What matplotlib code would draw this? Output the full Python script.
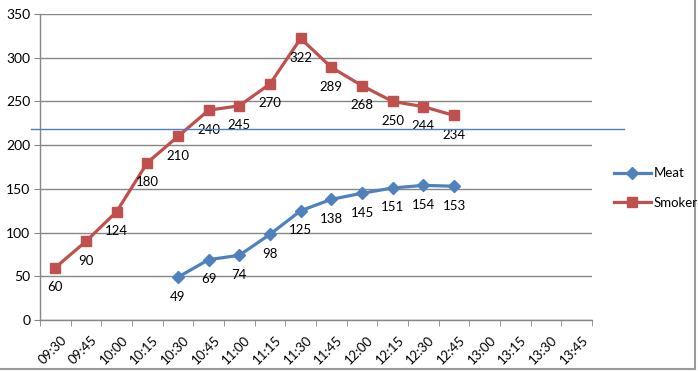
import matplotlib
matplotlib.use("Agg")
import matplotlib.pyplot as plt
import matplotlib.transforms as mtransforms
from matplotlib.lines import Line2D

# data
times = ["09:30", "09:45", "10:00", "10:15", "10:30", "10:45", "11:00", "11:15", "11:30",
         "11:45", "12:00", "12:15", "12:30", "12:45", "13:00", "13:15", "13:30", "13:45"]
smoker = [60, 90, 124, 180, 210, 240, 245, 270, 322, 289, 268, 250, 244, 234]
meat_start = "10:30"
meat = [49, 69, 74, 98, 125, 138, 145, 151, 154, 153]
threshold = 218

plt.rcParams['font.family'] = ['Lato', 'DejaVu Sans']

W, H = 698, 371
fig = plt.figure(figsize=(W / 100, H / 100), dpi=100)
ax = fig.add_axes([40 / W, (H - 320) / H, 552 / W, 306 / H])

grid_col = '#868686'
blue = '#4F81BD'
red = '#C0504D'

x_smoker = list(range(len(smoker)))
i0 = times.index(meat_start)
x_meat = list(range(i0, i0 + len(meat)))

ax.plot(x_meat, meat, color=blue, lw=2.3, marker='D', ms=6.5, label='Meat', zorder=3)
ax.plot(x_smoker, smoker, color=red, lw=2.3, marker='s', ms=7.5, label='Smoker', zorder=3)

# data labels below each point
for xs, ys in [(x_smoker, smoker), (x_meat, meat)]:
    for x, y in zip(xs, ys):
        ax.annotate(str(y), (x, y), xytext=(0, -14), textcoords='offset points',
                    ha='center', va='center', fontsize=9.5, color='black')

ax.set_xlim(-0.5, len(times) - 0.5)
ax.set_ylim(0, 350)
ax.set_yticks(range(0, 351, 50))
ax.yaxis.grid(True, color=grid_col, lw=1)
ax.set_axisbelow(True)

ax.set_xticks([i for i in range(len(times))])
ax.set_xticklabels(times, rotation=45, ha='right', va='top', rotation_mode='anchor', fontsize=9.5)
ax.set_xticks([i - 0.5 for i in range(len(times) + 1)], minor=True)
ax.tick_params(axis='x', which='major', length=0, pad=10)
ax.tick_params(axis='x', which='minor', length=4, color=grid_col, direction='out')
ax.tick_params(axis='y', length=4, color=grid_col, labelsize=10, pad=3)

# nudge the rotated labels right like Excel does
shift = mtransforms.ScaledTranslation(5 / 100, 0, fig.dpi_scale_trans)
for lbl in ax.get_xticklabels():
    lbl.set_transform(lbl.get_transform() + shift)

for side in ['top', 'right']:
    ax.spines[side].set_visible(False)
for side in ['left', 'bottom']:
    ax.spines[side].set_color(grid_col)
    ax.spines[side].set_linewidth(1)

# hand-drawn reference line across the chart
ax.axhline(threshold, xmin=(31 - 40) / 552, xmax=(624 - 40) / 552, color='#4A7EC6',
           lw=1, clip_on=False, zorder=4)

fig.legend(loc='center left', bbox_to_anchor=(614 / W, 1 - 188 / H), frameon=False,
           borderpad=0, borderaxespad=0, fontsize=9.5, handlelength=2.8,
           labelspacing=1.3, handletextpad=0.2)

# window border from the screenshot
fig.add_artist(Line2D([0, 695 / W], [1 - 369 / H, 1 - 369 / H], color='#9a9a9a', lw=1.5))
fig.add_artist(Line2D([695 / W, 695 / W], [1 - 369 / H, 1], color='#9a9a9a', lw=1.5))

fig.savefig('out.png', dpi=100)
